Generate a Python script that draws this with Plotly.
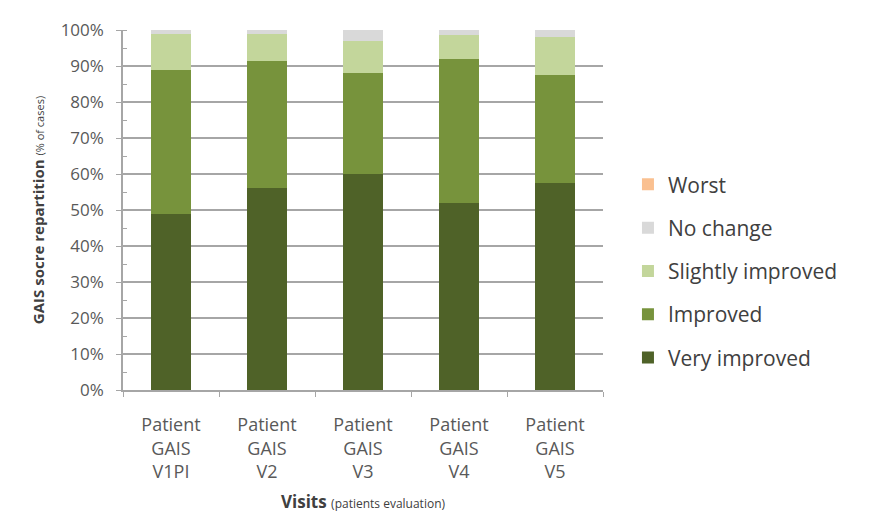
import plotly.graph_objects as go

visits = ["Patient<br>GAIS<br>V1PI", "Patient<br>GAIS<br>V2", "Patient<br>GAIS<br>V3",
          "Patient<br>GAIS<br>V4", "Patient<br>GAIS<br>V5"]

very_improved = [49, 56, 60, 52, 57.5]
improved = [40, 35.5, 28, 40, 30]
slightly_improved = [10, 7.5, 9, 6.5, 10.5]
no_change = [1, 1, 3, 1.5, 2]
worst = [0, 0, 0, 0, 0]

series = [
    ("Very improved", very_improved, "#4f6228"),
    ("Improved", improved, "#77933c"),
    ("Slightly improved", slightly_improved, "#c3d69b"),
    ("No change", no_change, "#d9d9d9"),
    ("Worst", worst, "#fac090"),
]

FONT = "'Open Sans', sans-serif"
AXIS_GREY = "#a6a6a6"

fig = go.Figure()
for i, (name, vals, color) in enumerate(series):
    fig.add_trace(go.Bar(
        x=visits, y=vals, name=name, legendgroup=name,
        legendrank=1000 - i,
        marker=dict(color=color, line=dict(width=0)),
    ))

fig.update_layout(
    barmode="stack",
    bargap=0.58,
    width=890, height=514,
    margin=dict(l=123, r=287, t=30, b=124, autoexpand=False),
    paper_bgcolor="white",
    plot_bgcolor="white",
    font=dict(family=FONT, color="#595959", size=17),
    legend=dict(
        x=1.052, y=0.33, xanchor="left", yanchor="middle",
        tracegroupgap=13,
        font=dict(size=21, color="#404040"),
        itemwidth=30,
    ),
    xaxis=dict(
        automargin=False,
        showline=True, linecolor=AXIS_GREY, linewidth=1.5,
        ticks="outside", tickson="boundaries", ticklen=5, tickcolor=AXIS_GREY,
        ticklabelstandoff=18,
        tickfont=dict(size=18, color="#595959"),
        title=dict(
            text="<b>Visits</b> <span style='font-size:12px'>(patients evaluation)</span>",
            font=dict(size=17, color="#404040"), standoff=14,
        ),
    ),
    yaxis=dict(
        automargin=False,
        range=[0, 100], dtick=10, ticksuffix="%",
        showgrid=True, gridcolor=AXIS_GREY, gridwidth=1.5,
        showline=True, linecolor=AXIS_GREY, linewidth=1.5,
        ticks="outside", ticklen=5, tickcolor=AXIS_GREY,
        ticklabelstandoff=9,
        minor=dict(dtick=5, ticks="inside", ticklen=4, tickcolor=AXIS_GREY, showgrid=False),
        tickfont=dict(size=17, color="#595959"),
        zeroline=False,
        title=dict(
            text="<b>GAIS socre repartition</b> <span style='font-size:11px'>(% of cases)</span>",
            font=dict(size=15, color="#404040"), standoff=12,
        ),
    ),
)

fig.write_html("out.html")
